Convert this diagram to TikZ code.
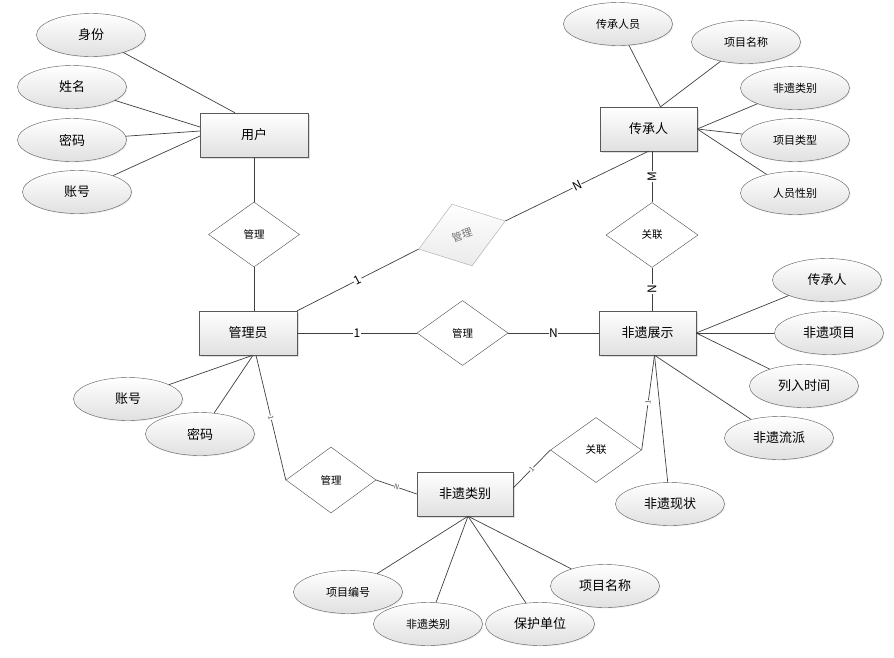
\documentclass[tikz,border=0pt]{standalone}
\usepackage{fontspec}
\setmainfont{Noto Sans CJK SC}
\usetikzlibrary{shapes.geometric,shadows,calc}
\begin{document}
\begin{tikzpicture}[x=1pt,y=-1pt,
 ent/.style={draw=black!65, top color=white, bottom color=black!12, minimum width=97pt, minimum height=44pt, inner sep=0pt, font=\fontsize{13}{15}\selectfont, drop shadow={opacity=0.25, shadow xshift=1.5pt, shadow yshift=-1.5pt}},
 attr/.style={ellipse, draw=black!65, top color=white, bottom color=black!12, minimum width=109pt, minimum height=43pt, inner sep=0pt, font=\fontsize{13}{15}\selectfont, drop shadow={opacity=0.15, shadow xshift=1pt, shadow yshift=-1pt}},
 sm/.style={font=\fontsize{11}{13}\selectfont},
 rel/.style={diamond, draw=black!70, fill=white, minimum width=91pt, minimum height=65pt, inner sep=0pt, font=\fontsize{10.5}{12}\selectfont},
 conn/.style={draw=black!75, line width=0.7pt},
 lab/.style={fill=white, inner sep=0.6pt, font=\fontsize{12}{14}\selectfont},
 tinylab/.style={fill=white, inner sep=0.3pt, font=\fontsize{7}{8}\selectfont, sloped, text=black!70}
]
\useasboundingbox (0,0) rectangle (894,657);

% entities
\node[ent, minimum width=108pt] (user) at (254,135) {用户};
\node[ent, minimum width=98pt] (admin) at (248,333) {管理员};
\node[ent] (chuan) at (648.5,129) {传承人};
\node[ent] (show) at (647.5,333) {非遗展示};
\node[ent, minimum width=96pt] (leib) at (465,494) {非遗类别};

% relationships
\node[rel] (r1) at (254,234.5) {管理};
\node[rel, rotate=18, draw=black!35, top color=white, bottom color=black!8, text=black!55] (r2) at (462,235) {管理};
\node[rel] (r3) at (462.5,333) {管理};
\node[rel, minimum width=92pt] (r4) at (652,235) {关联};
\node[rel] (r5) at (596,450) {关联};
\node[rel, minimum width=90pt, minimum height=66pt] (r6) at (331,480) {管理};

% user attributes
\node[attr] (a1) at (91,35) {身份};
\node[attr] (a2) at (72,87) {姓名};
\node[attr] (a3) at (72,140) {密码};
\node[attr] (a4) at (77,192) {账号};

% chuan attributes
\node[attr, sm] (b1) at (618,24) {传承人员};
\node[attr, sm] (b2) at (746,42) {项目名称};
\node[attr, sm] (b3) at (795,88) {非遗类别};
\node[attr, sm] (b4) at (795,140) {项目类型};
\node[attr, sm] (b5) at (795,193) {人员性别};

% show attributes
\node[attr] (c1) at (827,280) {传承人};
\node[attr] (c2) at (829,333) {非遗项目};
\node[attr] (c3) at (804,386) {列入时间};
\node[attr] (c4) at (779,438) {非遗流派};
\node[attr] (c5) at (670,504) {非遗现状};

% admin attributes
\node[attr] (d1) at (128,399) {账号};
\node[attr] (d2) at (200,434) {密码};

% leib attributes
\node[attr, sm] (e1) at (348,592) {项目编号};
\node[attr, sm] (e2) at (428,624) {非遗类别};
\node[attr] (e3) at (540,624) {保护单位};
\node[attr] (e4) at (605,586) {项目名称};

% anchor coordinates
\coordinate (uTop) at ($(user.north)+(-19,0)$);
\coordinate (uL1) at (200,127);
\coordinate (uL2) at (200,131);
\coordinate (uL3) at (200,136);
\coordinate (cTop) at ($(chuan.north)+(12,0)$);
\coordinate (sBot) at ($(show.south)+(7,0)$);
\coordinate (aBot) at ($(admin.south)+(5,0)$);
\coordinate (aBot2) at ($(admin.south)+(8,0)$);
\coordinate (lBot) at ($(leib.south)+(3,0)$);
\coordinate (lRight) at ($(leib.east)+(0,-6)$);

\begin{scope}[every path/.style={conn}]
% user attributes
\draw (a1) -- (uTop);
\draw (a2) -- (uL1);
\draw (a3) -- (uL2);
\draw (a4) -- (uL3);
% user - admin
\draw (user.south -| r1.north) -- (r1.north);
\draw (r1.south) -- (r1.south |- admin.north);
% admin - chuan via grey diamond
\draw (admin.north east) -- node[lab, sloped] {1} (r2.west);
\draw (r2.east) -- node[lab, sloped] {N} (chuan.south);
% admin - show
\draw (admin.east) -- node[lab] {1} (r3.west);
\draw (r3.east) -- node[lab] {N} (show.west);
% chuan - show
\draw (chuan.south -| r4.north) -- node[lab, rotate=90] {M} (r4.north);
\draw (r4.south) -- node[lab, rotate=90] {N} (r4.south |- show.north);
% chuan attributes
\draw (b1) -- (cTop);
\draw (b2) -- (cTop);
\draw (b3) -- (chuan.east);
\draw (b4) -- (chuan.east);
\draw (b5) -- (chuan.east);
% show attributes
\draw (c1) -- (show.east);
\draw (c2) -- (show.east);
\draw (c3) -- (show.east);
\draw (c4) -- (sBot);
\draw (c5) -- (sBot);
% admin attributes
\draw (d1) -- (aBot);
\draw (d2) -- (aBot);
% admin - leib
\draw (aBot2) -- node[tinylab] {1} (r6.west);
\draw (r6.east) -- node[tinylab] {N} (leib.west);
% leib - show
\draw (lRight) -- node[tinylab] {1} (r5.west);
\draw (r5.east) -- node[tinylab] {1} (sBot);
% leib attributes
\draw (e1) -- (lBot);
\draw (e2) -- (lBot);
\draw (e3) -- (lBot);
\draw (e4) -- (lBot);
\end{scope}
\end{tikzpicture}
\end{document}
